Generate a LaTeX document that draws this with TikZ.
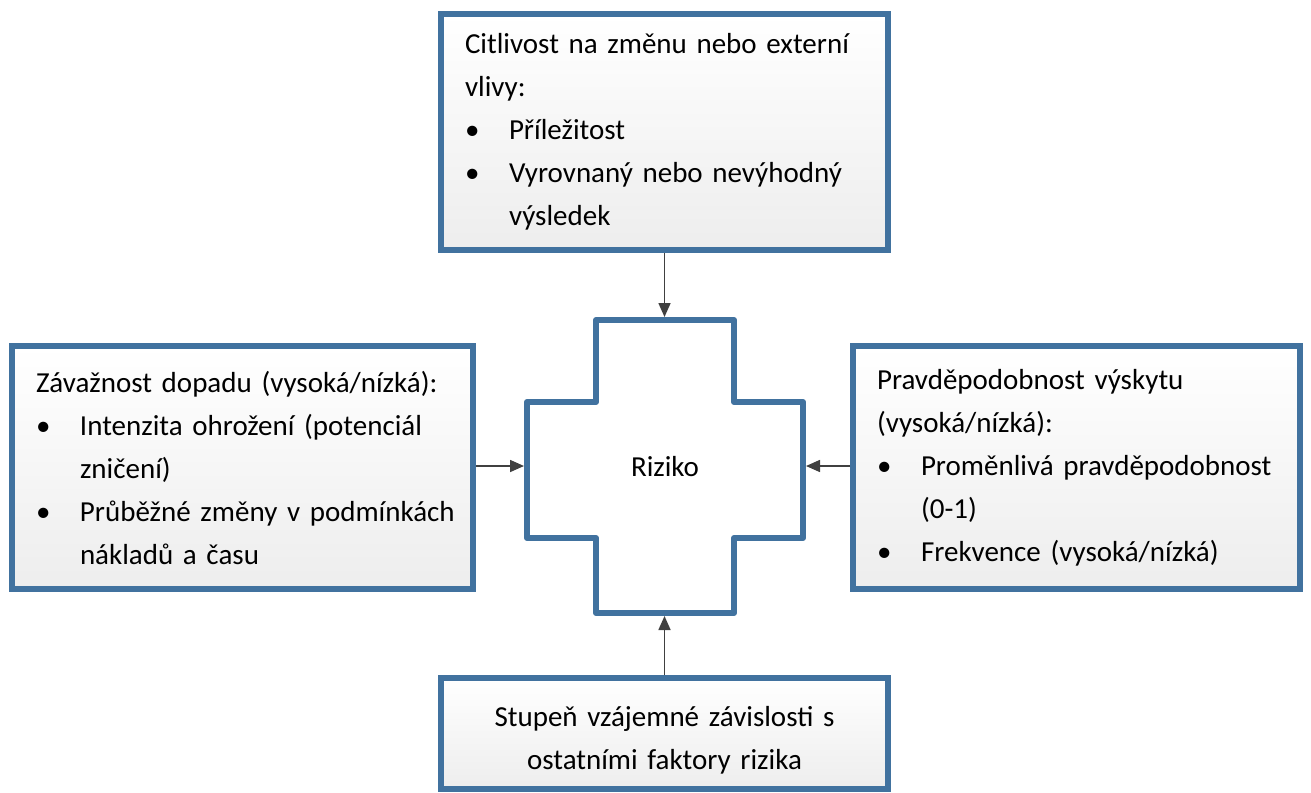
\documentclass[tikz,border=0pt]{standalone}
\usepackage{fontspec}
\setmainfont{Carlito}
\usetikzlibrary{arrows.meta,shadows}
\definecolor{RiskBlue}{HTML}{41729F}
\definecolor{RiskInk}{HTML}{404040}
\newcommand\bodyfont{\fontsize{29}{43}\selectfont\spaceskip=0.16em plus 0.08em minus 0.04em\relax}
\newcommand\bitem[1]{\mbox{\makebox[44pt][l]{\textbullet}#1}}
\newcommand\bcont[1]{\mbox{\hspace*{44pt}#1}}
\tikzset{
  >={Triangle[length=14pt,width=12pt]},
  flow/.style={->,line width=1.6pt,draw=RiskInk},
  factorbox/.style={draw=RiskBlue,line width=6pt,top color=white,bottom color=black!7,
    drop shadow={opacity=0.15,shadow xshift=3pt,shadow yshift=-3pt},
    inner sep=0pt,minimum width=447pt,text width=399pt,align=left,font=\bodyfont},
  crossline/.style={draw=RiskBlue,line width=6pt,line join=round,fill=white}
}

\begin{document}
\begin{tikzpicture}[x=1pt,y=-1pt]
  \useasboundingbox[fill=white] (0,0) rectangle (1311,792);

  % central cross
  \draw[crossline] (596,320) -- (734,320) -- (734,402) -- (803,402) -- (803,538)
    -- (734,538) -- (734,613) -- (596,613) -- (596,538) -- (527,538)
    -- (527,402) -- (596,402) -- cycle;
  \node[font=\bodyfont] (riziko) at (665,467) {Riziko};
  \coordinate (crossN) at (664.5,317);
  \coordinate (crossS) at (664.5,616);
  \coordinate (crossW) at (524,466);
  \coordinate (crossE) at (806,466);

  % factor boxes
  \node[factorbox,minimum height=236pt] (citlivost) at (664.5,132)
    {Citlivost na změnu nebo externí\\vlivy:\\\bitem{Příležitost}\\
     \bitem{Vyrovnaný nebo nevýhodný}\\\bcont{výsledek}};
  \node[factorbox,minimum width=461pt,minimum height=243pt,text width=413pt] (zavaznost) at (242.5,467.5)
    {\mbox{Závažnost dopadu (vysoká/nízká):}\\\bitem{Intenzita ohrožení (potenciál}\\
     \bcont{zničení)}\\\bitem{Průběžné změny v podmínkách}\\\bcont{nákladů a času}};
  \node[factorbox,minimum height=243pt] (pravdepodobnost) at (1076.5,467.5)
    {Pravděpodobnost výskytu\\(vysoká/nízká):\\\bitem{Proměnlivá pravděpodobnost}\\
     \bcont{(0-1)}\\\bitem{Frekvence (vysoká/nízká)}};
  \node[factorbox,minimum height=111pt,align=center] (zavislost) at (664.5,733.5)
    {\rule{0pt}{34pt}Stupeň vzájemné závislosti s\\ostatními faktory rizika};

  \draw[flow] (citlivost.south) -- (crossN);
  \draw[flow] (zavaznost.east |- crossW) -- (crossW);
  \draw[flow] (pravdepodobnost.west |- crossE) -- (crossE);
  \draw[flow] (zavislost.north) -- (crossS);
\end{tikzpicture}
\end{document}
